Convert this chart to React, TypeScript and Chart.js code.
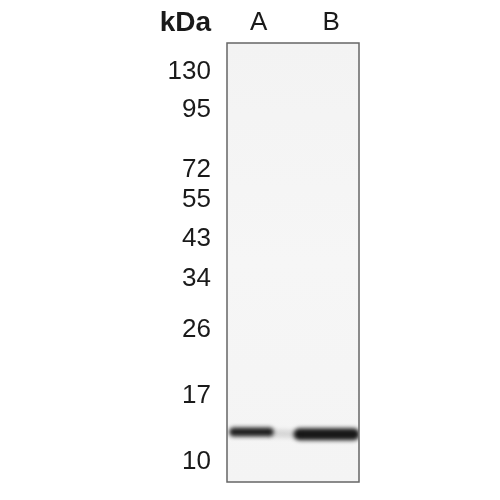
import React, { useEffect, useRef } from 'react';
import { Chart, registerables } from 'chart.js';

Chart.register(...registerables);

// marker ladder (kDa) and where each marker sits, as % of membrane height from the top
const markerKda = ['130', '95', '72', '55', '43', '34', '26', '17', '10'];
const markerPos = [6.6, 15.2, 28.9, 35.7, 44.7, 53.7, 65.3, 80.4, 95.4];

// lanes, with label position as fraction of membrane width
const laneNames = ['A', 'B'];
const laneCenter = [0.239, 0.79];

// detected bands: lane extent across the membrane, migration position, relative strength
const bandLane = ['A', 'B'];
const bandStart = [0.05, 0.55];
const bandEnd = [0.32, 0.96];
const bandPos = [88.6, 89.1];
const bandAlpha = [0.93, 0.96];

const FONT = '"Liberation Sans", Arial, sans-serif';

const membranePlugin = {
  id: 'membrane',
  beforeDatasetsDraw(chart: any) {
    const { ctx, chartArea } = chart;
    const { left, top, right, bottom } = chartArea;
    ctx.save();
    const g = ctx.createLinearGradient(0, top, 0, bottom);
    g.addColorStop(0, '#f3f3f3');
    g.addColorStop(0.5, '#f6f6f6');
    g.addColorStop(1, '#f4f4f4');
    ctx.fillStyle = g;
    ctx.fillRect(left, top, right - left, bottom - top);
    ctx.restore();
  },
  beforeDatasetDraw(chart: any) {
    chart.ctx.save();
    chart.ctx.filter = 'blur(2px)';
  },
  afterDatasetDraw(chart: any) {
    chart.ctx.restore();
  },
  afterDraw(chart: any) {
    const { ctx, chartArea } = chart;
    const { left, top, right, bottom } = chartArea;
    ctx.save();
    ctx.strokeStyle = '#666';
    ctx.lineWidth = 1.5;
    ctx.strokeRect(left, top, right - left, bottom - top);
    ctx.fillStyle = '#1a1a1a';
    ctx.font = `bold 28px ${FONT}`;
    ctx.textAlign = 'right';
    ctx.textBaseline = 'middle';
    ctx.fillText('kDa', left - 16, 23);
    ctx.restore();
  },
};

const WesternBlot: React.FC = () => {
  const canvasRef = useRef<HTMLCanvasElement>(null);

  useEffect(() => {
    if (!canvasRef.current) return;

    const datasets: any[] = bandLane.map((lane, i) => ({
      label: `Lane ${lane}`,
      type: 'line',
      data: [
        { x: bandStart[i], y: bandPos[i] },
        { x: bandEnd[i], y: bandPos[i] },
      ],
      borderColor: `rgba(15, 15, 15, ${bandAlpha[i]})`,
      borderWidth: lane === 'A' ? 9 : 12,
      borderCapStyle: 'round',
      pointRadius: 0,
      tension: 0,
    }));

    // faint smear between the two lanes
    datasets.unshift({
      label: 'smear',
      type: 'line',
      data: [
        { x: bandEnd[0], y: bandPos[0] + 0.3 },
        { x: bandStart[1], y: bandPos[1] },
      ],
      borderColor: 'rgba(0, 0, 0, 0.12)',
      borderWidth: 8,
      pointRadius: 0,
    });

    const chart = new Chart(canvasRef.current, {
      type: 'line',
      data: { datasets },
      options: {
        animation: false,
        responsive: false,
        layout: { padding: { left: 0, top: 0, right: 141, bottom: 18 } },
        plugins: { legend: { display: false }, tooltip: { enabled: false } },
        scales: {
          x: {
            type: 'linear',
            position: 'top',
            min: 0,
            max: 1,
            grid: { display: false, drawTicks: false },
            border: { display: false },
            afterBuildTicks: (scale: any) => {
              scale.ticks = laneCenter.map(v => ({ value: v }));
            },
            afterFit: (scale: any) => {
              scale.height = 43;
              scale.paddingLeft = 0;
              scale.paddingRight = 0;
            },
            ticks: {
              autoSkip: false,
              maxRotation: 0,
              padding: 5,
              color: '#1a1a1a',
              font: { family: FONT, size: 26 },
              callback: (_v: any, i: number) => laneNames[i],
            },
          },
          y: {
            type: 'linear',
            reverse: true,
            min: 0,
            max: 100,
            grid: { display: false, drawTicks: false },
            border: { display: false },
            afterBuildTicks: (scale: any) => {
              scale.ticks = markerPos.map(v => ({ value: v }));
            },
            afterFit: (scale: any) => {
              scale.width = 227;
              scale.paddingTop = 0;
              scale.paddingBottom = 0;
            },
            ticks: {
              autoSkip: false,
              padding: 16,
              color: '#1a1a1a',
              font: { family: FONT, size: 26 },
              callback: (_v: any, i: number) => markerKda[i],
            },
          },
        },
      },
      plugins: [membranePlugin],
    });

    return () => {
      chart.destroy();
    };
  }, []);

  return (
    <div style={{ position: 'fixed', left: 0, top: 0, width: 500, height: 500, background: '#fff' }}>
      <canvas ref={canvasRef} width={500} height={500} style={{ width: 500, height: 500 }} />
    </div>
  );
};

export default function App() {
  return <WesternBlot />;
}
